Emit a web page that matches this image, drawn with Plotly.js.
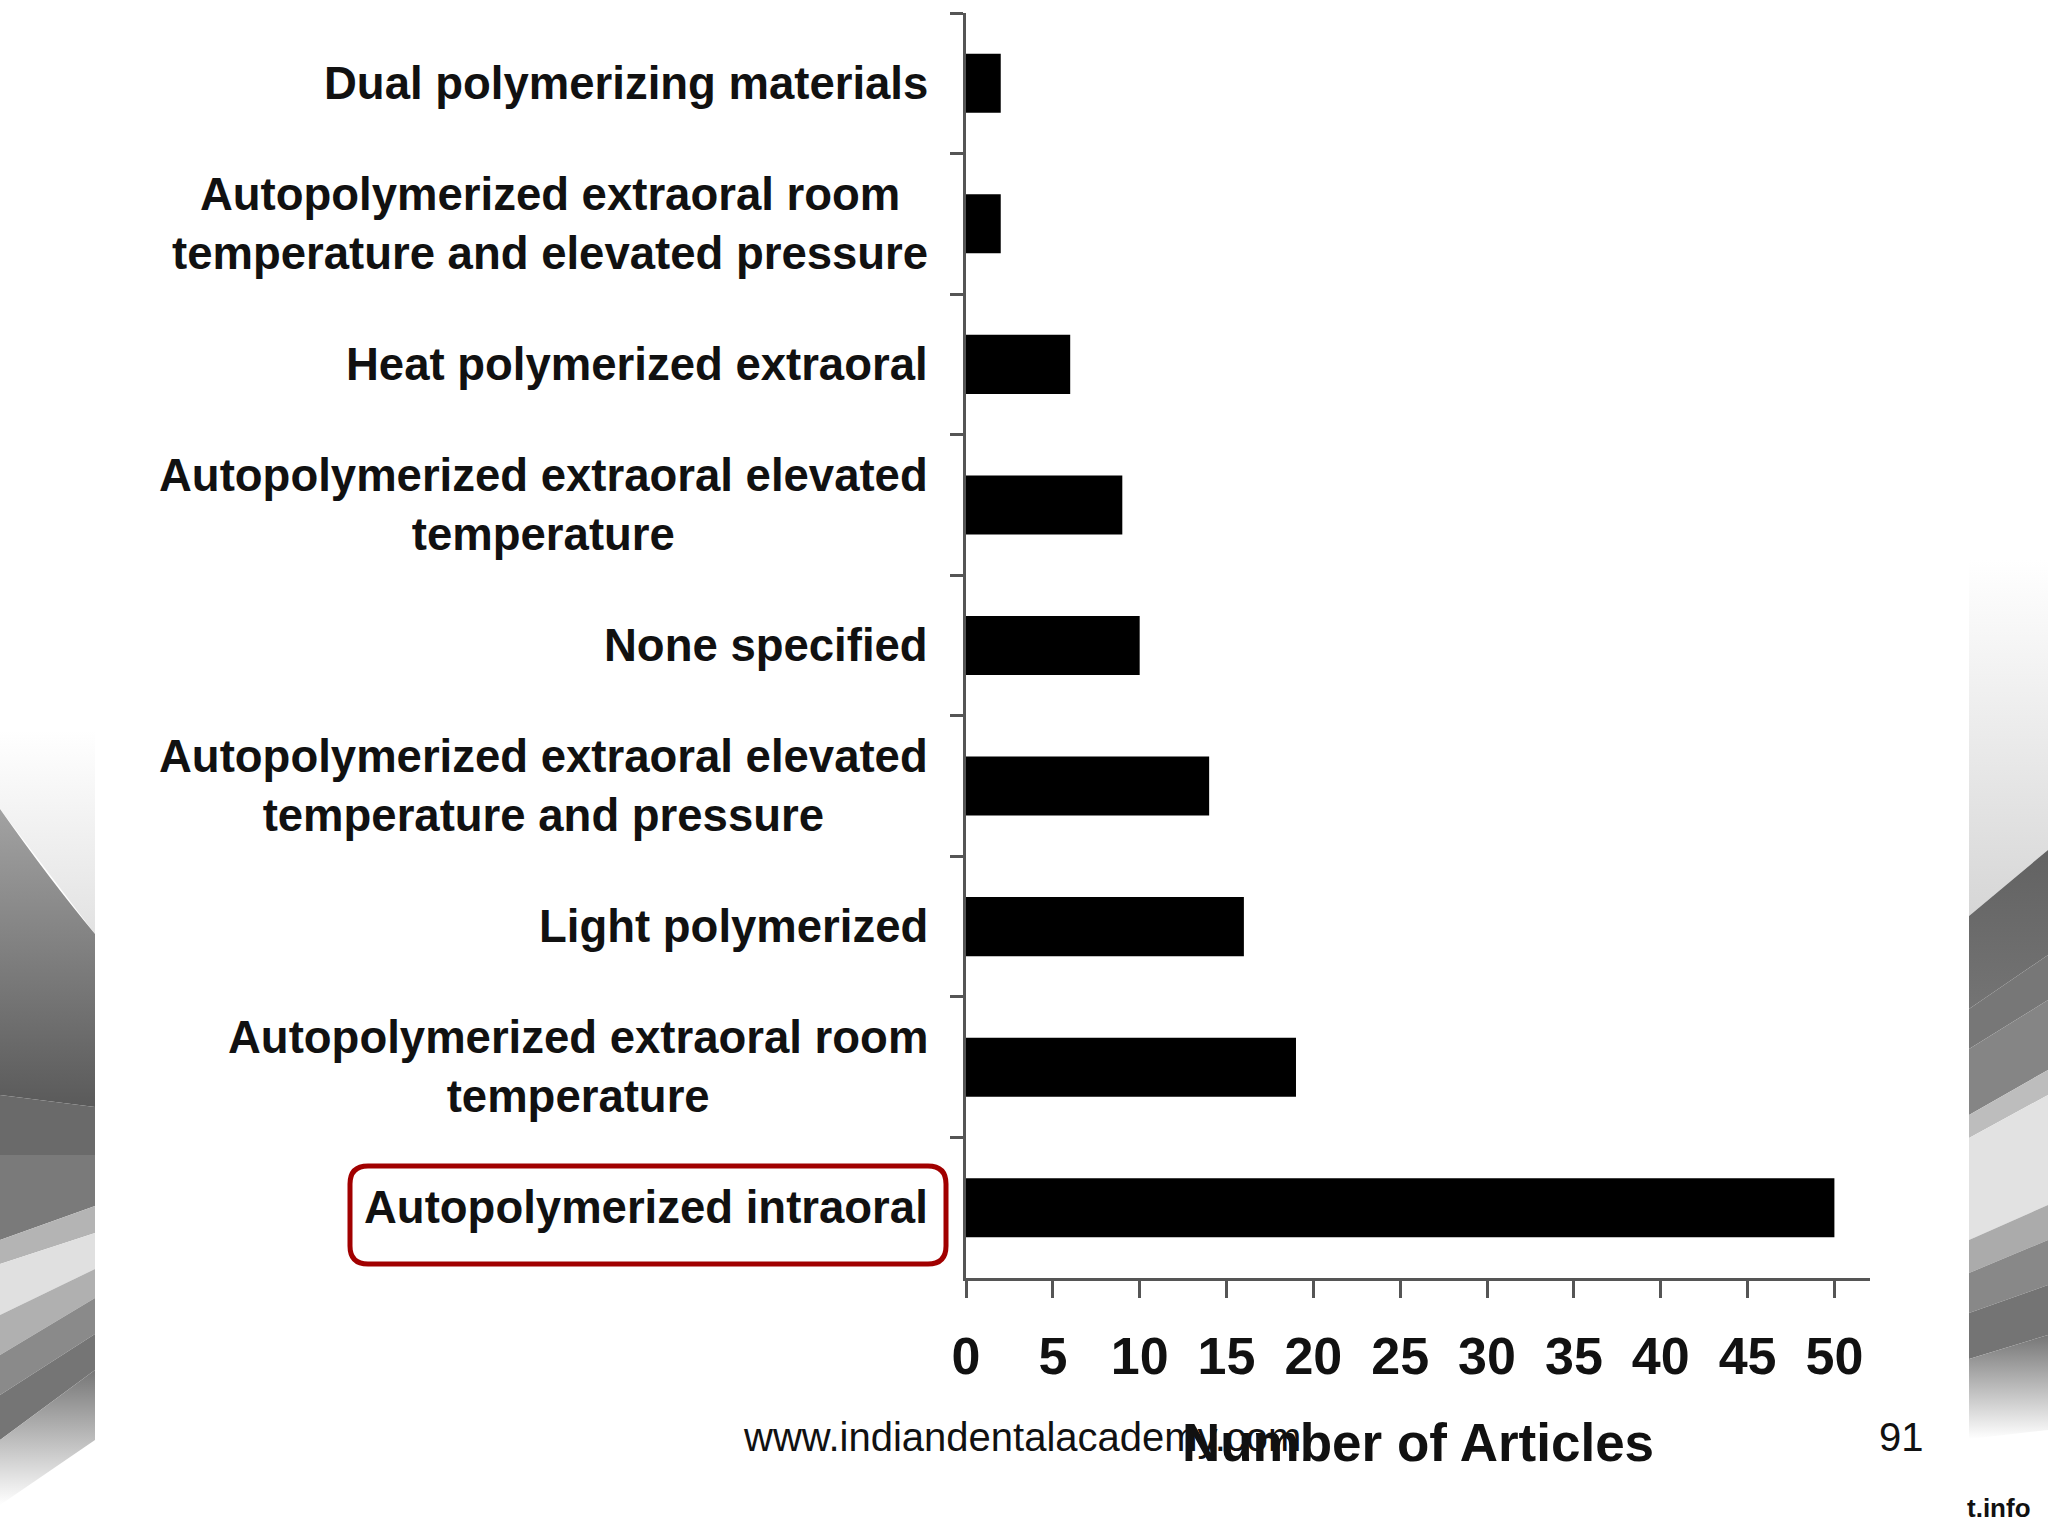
<!DOCTYPE html>
<html>
<head>
<meta charset="utf-8">
<script src="https://cdn.plot.ly/plotly-3.0.1.min.js"></script>
<style>
  html, body { margin: 0; padding: 0; background: #ffffff; }
  #wrap { position: relative; width: 2048px; height: 1536px; overflow: hidden; }
  #bg { position: absolute; left: 0; top: 0; }
  #chart { position: absolute; left: 0; top: 0; width: 2048px; height: 1536px; }
</style>
</head>
<body>
<div id="wrap">
<svg id="bg" width="2048" height="1536" viewBox="0 0 2048 1536" xmlns="http://www.w3.org/2000/svg">
  <defs>
    <linearGradient id="lTop" x1="0" y1="0" x2="0" y2="1">
      <stop offset="0" stop-color="#ffffff"/>
      <stop offset="1" stop-color="#e2e2e2"/>
    </linearGradient>
    <linearGradient id="lDark" x1="0" y1="0" x2="0" y2="1">
      <stop offset="0" stop-color="#a2a2a2"/>
      <stop offset="1" stop-color="#5a5a5a"/>
    </linearGradient>
    <linearGradient id="lFade" x1="0" y1="0" x2="0" y2="1">
      <stop offset="0" stop-color="#767676"/>
      <stop offset="1" stop-color="#ffffff"/>
    </linearGradient>
    <linearGradient id="rTop" x1="0" y1="0" x2="0" y2="1">
      <stop offset="0" stop-color="#ffffff"/>
      <stop offset="1" stop-color="#d6d6d6"/>
    </linearGradient>
    <linearGradient id="rDark" x1="0" y1="0" x2="0" y2="1">
      <stop offset="0" stop-color="#626262"/>
      <stop offset="1" stop-color="#747474"/>
    </linearGradient>
    <linearGradient id="rFade" x1="0" y1="0" x2="0" y2="1">
      <stop offset="0" stop-color="#767676"/>
      <stop offset="1" stop-color="#ffffff"/>
    </linearGradient>
  </defs>
  <!-- left decoration -->
  <polygon points="0,730 95,730 95,934 0,809" fill="url(#lTop)"/>
  <path d="M0,809 Q50,880 95,934 L95,1107 L0,1095 Z" fill="url(#lDark)"/>
  <polygon points="0,1095 95,1107 95,1155 0,1155" fill="#6a6a6a"/>
  <polygon points="0,1155 95,1155 95,1206 0,1240" fill="#7a7a7a"/>
  <polygon points="0,1240 95,1206 95,1233 0,1264" fill="#b4b4b4"/>
  <polygon points="0,1264 95,1233 95,1269 0,1315" fill="#e0e0e0"/>
  <polygon points="0,1315 95,1269 95,1298 0,1355" fill="#b0b0b0"/>
  <polygon points="0,1355 95,1298 95,1334 0,1395" fill="#8a8a8a"/>
  <polygon points="0,1395 95,1334 95,1370 0,1440" fill="#757575"/>
  <polygon points="0,1440 95,1370 95,1440 0,1505" fill="url(#lFade)"/>
  <!-- right decoration -->
  <polygon points="1969,560 2048,560 2048,850 1969,916" fill="url(#rTop)"/>
  <polygon points="1969,916 2048,850 2048,955 1969,1009" fill="url(#rDark)"/>
  <polygon points="1969,1009 2048,955 2048,1000 1969,1049" fill="#777777"/>
  <polygon points="1969,1049 2048,1000 2048,1070 1969,1115" fill="#858585"/>
  <polygon points="1969,1115 2048,1070 2048,1095 1969,1138" fill="#bdbdbd"/>
  <polygon points="1969,1138 2048,1095 2048,1205 1969,1240" fill="#e2e2e2"/>
  <polygon points="1969,1240 2048,1205 2048,1240 1969,1273" fill="#ababab"/>
  <polygon points="1969,1273 2048,1240 2048,1285 1969,1313" fill="#888888"/>
  <polygon points="1969,1313 2048,1285 2048,1335 1969,1359" fill="#747474"/>
  <polygon points="1969,1359 2048,1335 2048,1430 1969,1439" fill="url(#rFade)"/>
</svg>
<div id="chart"></div>
</div>
<script>
// ---- data ----
const categories = [
  "Dual polymerizing materials",
  "Autopolymerized extraoral room<br>temperature and elevated pressure",
  "Heat polymerized extraoral",
  "Autopolymerized extraoral elevated<br>temperature",
  "None specified",
  "Autopolymerized extraoral elevated<br>temperature and pressure",
  "Light polymerized",
  "Autopolymerized extraoral room<br>temperature",
  "Autopolymerized intraoral"
];
const articles = [2, 2, 6, 9, 10, 14, 16, 19, 50];
const xTickValues = [0, 5, 10, 15, 20, 25, 30, 35, 40, 45, 50];
const xTickLabels = ["0", "5", "10", "15", "20", "25", "30", "35", "40", "45", "50"];
const xTitle = "Number of Articles";
const footerSite = "www.indiandentalacademy.com";
const footerPage = "91";
const footerCorner = "t.info";

// ---- layout geometry (pixels) ----
const L = 966, R = 1870, T = 13, B = 1278;
const W = R - L, H = B - T;
const px = (x) => (x - L) / W;
const py = (y) => (B - y) / H;

function roundRectPath(x0, y0, x1, y1, r) {
  const p = (x, y) => px(x).toFixed(5) + "," + py(y).toFixed(5);
  return "M" + p(x0 + r, y0) + " L" + p(x1 - r, y0) + " Q" + p(x1, y0) + " " + p(x1, y0 + r) +
         " L" + p(x1, y1 - r) + " Q" + p(x1, y1) + " " + p(x1 - r, y1) +
         " L" + p(x0 + r, y1) + " Q" + p(x0, y1) + " " + p(x0, y1 - r) +
         " L" + p(x0, y0 + r) + " Q" + p(x0, y0) + " " + p(x0 + r, y0) + " Z";
}

const FONT = "Liberation Sans, Arial, Helvetica, sans-serif";
const AXC = "#555555";

const trace = {
  type: "bar",
  orientation: "h",
  x: articles,
  y: categories,
  marker: { color: "#000000", line: { width: 0 } },
  hoverinfo: "x+y"
};

const labelAnnotations = categories.map((c) => ({
  xref: "x", yref: "y", x: 0, y: c,
  text: c, showarrow: false,
  xanchor: "right", yanchor: "middle", align: "center",
  xshift: -36,
  font: { family: FONT, size: 45.5, weight: 700, color: "#111111" }
}));

const footerAnnotations = [
  { xref: "paper", yref: "paper", x: px(1022), y: py(1437), text: footerSite, showarrow: false,
    xanchor: "center", yanchor: "middle", font: { family: FONT, size: 40, color: "#111111" } },
  { xref: "paper", yref: "paper", x: px(1901), y: py(1437), text: footerPage, showarrow: false,
    xanchor: "center", yanchor: "middle", font: { family: FONT, size: 40, color: "#111111" } },
  { xref: "paper", yref: "paper", x: px(1999), y: py(1508), text: footerCorner, showarrow: false,
    xanchor: "center", yanchor: "middle", font: { family: FONT, size: 26, weight: 700, color: "#111111" } }
];

const layout = {
  width: 2048, height: 1536,
  margin: { l: L, r: 2048 - R, t: T, b: 1536 - B, pad: 0 },
  paper_bgcolor: "rgba(0,0,0,0)",
  plot_bgcolor: "rgba(0,0,0,0)",
  showlegend: false,
  bargap: 0.58,
  xaxis: {
    range: [0, 52.05],
    tickmode: "array", tickvals: xTickValues, ticktext: xTickLabels,
    ticks: "outside", ticklen: 17, tickwidth: 3, tickcolor: AXC,
    showline: true, linecolor: AXC, linewidth: 3,
    showgrid: false, zeroline: false,
    ticklabelstandoff: 14,
    tickfont: { family: FONT, size: 52, weight: 700, color: "#111111" },
    title: { text: xTitle, standoff: 40, font: { family: FONT, size: 53, weight: 700, color: "#111111" } },
    automargin: false,
    fixedrange: true
  },
  yaxis: {
    type: "category",
    categoryorder: "array", categoryarray: categories,
    range: [categories.length - 0.5, -0.5],
    tickson: "boundaries",
    ticks: "outside", ticklen: 13, tickwidth: 3, tickcolor: AXC,
    showticklabels: false,
    showline: true, linecolor: AXC, linewidth: 3,
    showgrid: false, zeroline: false,
    automargin: false,
    fixedrange: true
  },
  annotations: labelAnnotations.concat(footerAnnotations),
  shapes: [
    { type: "path", xref: "paper", yref: "paper",
      path: roundRectPath(350, 1166, 946, 1264, 18),
      line: { color: "#a10000", width: 5 }, fillcolor: "rgba(0,0,0,0)", layer: "above" }
  ]
};

Plotly.newPlot("chart", [trace], layout, { displayModeBar: false, staticPlot: true });
</script>
</body>
</html>
